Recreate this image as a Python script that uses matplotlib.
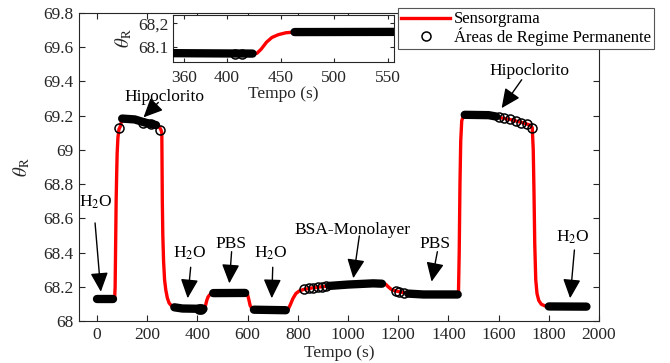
import matplotlib
matplotlib.use("Agg")
import matplotlib.pyplot as plt
from matplotlib.lines import Line2D
from matplotlib.ticker import FixedLocator, FixedFormatter

plt.rcParams['font.family'] = ['Liberation Serif', 'DejaVu Serif']
plt.rcParams['mathtext.fontset'] = 'stix'

# ---------------- data ----------------
# Sensorgram (red line)
t_sens = [0, 62, 70, 72, 74, 76, 78, 80, 83, 87, 92, 100, 150, 190, 235, 250, 255, 258, 259, 260,
          262, 265, 269, 274, 280, 287, 297, 308, 340, 424, 428, 432, 437, 442, 448, 455, 463, 590,
          598, 604, 610, 618, 625, 752, 762, 770, 780, 792, 805, 822, 860, 925, 1000, 1100, 1135,
          1150, 1160, 1172, 1185, 1240, 1300, 1437, 1440, 1443, 1446, 1449, 1453, 1460, 1480, 1560,
          1600, 1650, 1700, 1725, 1734, 1738, 1741, 1744, 1748, 1753, 1760, 1770, 1785, 1800, 1950]
v_sens = [68.127, 68.127, 68.127, 68.2, 68.45, 68.7, 68.85, 68.98, 69.07, 69.12, 69.135, 69.183,
          69.178, 69.16, 69.145, 69.13, 69.115, 69.1, 68.9, 68.7, 68.5, 68.35, 68.24, 68.18, 68.135,
          68.105, 68.088, 68.08, 68.073, 68.071, 68.072, 68.09, 68.12, 68.14, 68.152, 68.16, 68.163,
          68.164, 68.163, 68.13, 68.09, 68.07, 68.066, 68.063, 68.07, 68.095, 68.13, 68.16, 68.175,
          68.184, 68.194, 68.205, 68.213, 68.22, 68.218, 68.215, 68.2, 68.185, 68.177, 68.16, 68.155,
          68.155, 68.16, 68.4, 68.8, 69.05, 69.17, 69.2, 69.205, 69.203, 69.19, 69.176, 69.157,
          69.145, 69.13, 69.0, 68.75, 68.45, 68.24, 68.16, 68.12, 68.098, 68.088, 68.085, 68.084]

# Steady-state areas (dense markers -> solid bands)
band_A_t = [0, 62];                 band_A_v = [68.127, 68.127]
band_B_t = [100, 150, 190, 235];    band_B_v = [69.183, 69.178, 69.16, 69.145]
band_C_t = [308, 340, 424];         band_C_v = [68.08, 68.073, 68.071]
band_D_t = [463, 590];              band_D_v = [68.163, 68.164]
band_E_t = [625, 752];              band_E_v = [68.066, 68.063]
band_F_t = [925, 1000, 1100, 1135]; band_F_v = [68.205, 68.213, 68.22, 68.218]
band_G_t = [1240, 1300, 1437];      band_G_v = [68.16, 68.155, 68.155]
band_H_t = [1465, 1560, 1590];      band_H_v = [69.205, 69.203, 69.195]
band_I_t = [1800, 1950];            band_I_v = [68.085, 68.084]

# Individually visible steady-state circles
circ_t = [89, 185, 215, 250, 825, 845, 862, 880, 898, 912, 1190, 1205, 1222,
          1600, 1620, 1645, 1670, 1690, 1712, 1735, 408, 414]
circ_v = [69.13, 69.155, 69.15, 69.115, 68.185, 68.19, 68.193, 68.196, 68.2, 68.202,
          68.175, 68.17, 68.165, 69.192, 69.187, 69.178, 69.168, 69.16, 69.15, 69.127,
          68.068, 68.068]

bands = [(band_A_t, band_A_v), (band_B_t, band_B_v), (band_C_t, band_C_v),
         (band_D_t, band_D_v), (band_E_t, band_E_v), (band_F_t, band_F_v),
         (band_G_t, band_G_v), (band_H_t, band_H_v), (band_I_t, band_I_v)]

# Annotations: label, text position (t, v baseline), arrow tail, arrow head
ann_labels = ['H$_2$O', 'Hipoclorito', 'H$_2$O', 'PBS', 'H$_2$O', 'BSA-Monolayer', 'PBS',
              'Hipoclorito', 'H$_2$O']
ann_text_t = [-4, 269, 370, 533, 692, 1017, 1347, 1722, 1894]
ann_text_v = [68.668, 69.287, 68.372, 68.429, 68.372, 68.509, 68.429, 69.439, 68.464]
ann_tail_t = [-8, 244, 373, 536, 700, 1045, 1356, 1692, 1902]
ann_tail_v = [68.573, 69.277, 68.314, 68.405, 68.314, 68.497, 68.405, 69.41, 68.415]
ann_head_t = [15, 185, 361, 527, 696, 1021, 1333, 1612, 1885]
ann_head_v = [68.171, 69.19, 68.133, 68.22, 68.133, 68.25, 68.23, 69.244, 68.133]

x_ticks = [0, 200, 400, 600, 800, 1000, 1200, 1400, 1600, 1800, 2000]
y_ticks = [68, 68.2, 68.4, 68.6, 68.8, 69, 69.2, 69.4, 69.6, 69.8]
y_ticklabels = ['68', '68.2', '68.4', '68.6', '68.8', '69', '69.2', '69.4', '69.6', '69.8']
inset_x_ticks = [360, 400, 450, 500, 550]
inset_y_ticks = [68.1, 68.2]
inset_y_ticklabels = ['68.1', '68,2']

# ---------------- styling ----------------
AX_COL = '#262626'
FS = 12.5

fig = plt.figure(figsize=(6.7, 3.63), dpi=100)
ax = fig.add_axes([79/670, 1-321/363, (599-79)/670, (321-13)/363])
axi = fig.add_axes([173/670, 1-62/363, (394-173)/670, (62-15)/363])


def draw_data(a):
    a.plot(t_sens, v_sens, color='#ff0000', lw=2.4, zorder=2, solid_joinstyle='round')
    for bt, bv in bands:
        a.plot(bt, bv, color='black', lw=6, solid_capstyle='round', zorder=3)
    a.plot(circ_t, circ_v, ls='none', marker='o', mfc='none', mec='black', ms=6.5, mew=1.1, zorder=4)


def style(a):
    for s in a.spines.values():
        s.set_color(AX_COL)
        s.set_linewidth(0.8)
    a.tick_params(direction='in', length=4, width=0.8, colors=AX_COL, labelcolor='#262626',
                  labelsize=FS, top=True, right=True, pad=4)


draw_data(ax)
style(ax)
ax.set_xlim(-72, 2000)
ax.set_ylim(68, 69.8)
ax.xaxis.set_major_locator(FixedLocator(x_ticks))
ax.yaxis.set_major_locator(FixedLocator(y_ticks))
ax.yaxis.set_major_formatter(FixedFormatter(y_ticklabels))
ax.set_xlabel('Tempo (s)', fontsize=FS, color='#262626', labelpad=2)
ax.set_ylabel(r'$\theta_{\mathrm{R}}$', fontsize=FS + 1, color='#262626', labelpad=8)

for lab, tx, ty, at, av, ht, hv in zip(ann_labels, ann_text_t, ann_text_v, ann_tail_t,
                                       ann_tail_v, ann_head_t, ann_head_v):
    ax.text(tx, ty, lab, ha='center', va='baseline', fontsize=12.5, color='black', zorder=6)
    ax.annotate('', xy=(ht, hv), xytext=(at, av),
                arrowprops=dict(arrowstyle='-|>,head_length=0.65,head_width=0.3', color='black',
                                lw=1.0, mutation_scale=18, shrinkA=0, shrinkB=0), zorder=6)

draw_data(axi)
style(axi)
axi.set_facecolor('white')
axi.set_xlim(350, 555.5)
axi.set_ylim(68.035, 68.236)
axi.xaxis.set_major_locator(FixedLocator(inset_x_ticks))
axi.yaxis.set_major_locator(FixedLocator(inset_y_ticks))
axi.yaxis.set_major_formatter(FixedFormatter(inset_y_ticklabels))
axi.tick_params(length=3)
axi.tick_params(axis='x', pad=6)
axi.tick_params(axis='y', pad=3)
axi.set_xlabel('Tempo (s)', fontsize=FS, color='#262626', labelpad=0)
axi.set_ylabel(r'$\theta_{\mathrm{R}}$', fontsize=FS + 1, color='#262626', labelpad=3)

handles = [Line2D([], [], color='#ff0000', lw=2.4),
           Line2D([], [], ls='none', marker='o', mfc='none', mec='black', ms=6.5, mew=1.1)]
leg = fig.legend(handles, ['Sensorgrama', 'Áreas de Regime Permanente'],
                 loc='upper left', bbox_to_anchor=(398/670, 1-8/363), borderaxespad=0,
                 fontsize=12, frameon=True, fancybox=False, framealpha=1, edgecolor='#555555',
                 handlelength=2.9, handletextpad=0.25, borderpad=0.2, labelspacing=0.0)
leg.get_frame().set_linewidth(0.8)
leg.set_zorder(10)

fig.savefig('out.png', dpi=100)
